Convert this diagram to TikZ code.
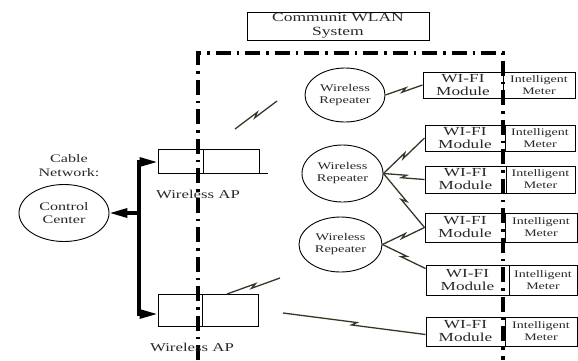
\documentclass[tikz,border=0pt]{standalone}
\usepackage{fontspec}
\setmainfont{Liberation Serif}[FakeStretch=1.4]
\usetikzlibrary{calc,arrows.meta,shapes.geometric}
\definecolor{boltc}{RGB}{55,55,40}
\definecolor{txtc}{RGB}{40,40,40}
\newcommand\fsz[2]{\fontsize{#1}{#2}\selectfont}
\begin{document}
\begin{tikzpicture}[x=1pt,y=-1pt,
  box/.style={draw, line width=1pt, inner sep=0pt, align=center, text=txtc},
  ell/.style={draw, ellipse, line width=0.9pt, inner sep=0pt, align=center, text=txtc},
  lbl/.style={inner sep=0pt, align=center, text=txtc},
  bus/.style={line width=3.2pt, line join=miter},
  ddash/.style={line width=3.2pt, dash pattern=on 15pt off 6pt on 2.5pt off 6pt},
  tip/.style={-{Triangle[length=18pt,width=9pt]}},
  bolt/.style={draw=boltc, line width=1.3pt,
    to path={-- ($(\tikztostart)!0.5!(\tikztotarget)!2.5pt!(\tikztotarget)!1.6pt!90:(\tikztotarget)$)
             -- ($(\tikztostart)!0.5!(\tikztotarget)!-2.5pt!(\tikztotarget)!1.6pt!-90:(\tikztotarget)$)
             -- (\tikztotarget)}}]
\useasboundingbox (0,0) rectangle (578,360);

% title
\node[box, minimum width=182pt, minimum height=28pt, font=\fsz{12.5}{14}] (title) at (338,26) {Communit WLAN\\System};

% dash-dot system boundary
\coordinate (s1) at (198,360);
\coordinate (s2) at (198,53);
\coordinate (s3) at (503,53);
\coordinate (s4) at (503,360);
\draw[ddash] (s1) -- (s2) -- (s3) -- (s4);

% control center
\node[lbl, font=\fsz{11.5}{14}] (cable) at (69,166) {Cable\\Network:};
\node[ell, minimum width=90pt, minimum height=57pt, font=\fsz{11.5}{13}] (cc) at (64,213) {Control\\Center};

% wireless APs
\node[box, minimum width=45pt, minimum height=24pt] (ap1l) at (180.5,161) {};
\node[box, minimum width=56pt, minimum height=24pt] (ap1r) at (231,161) {};
\node[lbl, font=\fsz{12}{13}] (ap1lab) at (198,194) {Wireless AP};
\node[box, minimum width=44pt, minimum height=32pt] (ap2l) at (180,310) {};
\node[box, minimum width=56pt, minimum height=32pt] (ap2r) at (230,310) {};
\node[lbl, font=\fsz{12}{13}] (ap2lab) at (192,347) {Wireless AP};
\draw[line width=1pt] (ap1r.south east) -- ++(8,0);

% bus
\coordinate (bt) at (139,162);
\coordinate (bb) at (139,314);
\coordinate (bm) at (139,213);
\draw[bus, tip] (bb) -- (bt) -- (bt -| ap1l.west);
\draw[bus, tip] (bt) -- (bb) -- (bb -| ap2l.west);
\draw[bus, tip] (bm) -- (cc.east);

% repeaters
\node[ell, minimum width=80pt, minimum height=54pt, font=\fsz{10.3}{12}] (rep1) at (345,95) {Wireless\\Repeater};
\node[ell, minimum width=81pt, minimum height=57pt, font=\fsz{10.3}{12}] (rep2) at (342.5,173.5) {Wireless\\Repeater};
\node[ell, minimum width=83pt, minimum height=55pt, font=\fsz{10.3}{12}] (rep3) at (340.5,244.5) {Wireless\\Repeater};

% WI-FI modules and meters
\foreach \i/\l/\d/\r/\t/\b in {1/423/503/575/72/98, 2/425/505/575/125/151, 3/425/506/575/166/193, 4/425/505/577/213/242, 5/426/509/577/265/295, 6/426/505/577/317/346} {
  \node[box, minimum width={(\d-\l)*1pt}, minimum height={(\b-\t)*1pt}, font=\fsz{12.3}{13}] (wifi\i) at ({(\l+\d)/2},{(\t+\b)/2}) {WI-FI\\Module};
  \node[box, minimum width={(\r-\d)*1pt}, minimum height={(\b-\t)*1pt}, font=\fsz{10}{12}] (meter\i) at ({(\d+\r)/2},{(\t+\b)/2}) {Intelligent\\Meter};
}

% wireless links
\coordinate (f1a) at (235,129);
\coordinate (f1b) at (277,101);
\draw[bolt] (f1a) to (f1b);
\coordinate (f2a) at (227,294);
\coordinate (f2b) at (280,278);
\draw[bolt] (f2a) to (f2b);
\coordinate (f3a) at (283,313);
\coordinate (w6in) at ($(wifi6.west)+(0,3)$);
\draw[bolt] (f3a) to (w6in);
\draw[bolt] (rep1.east) to (wifi1.west);
\draw[bolt] (rep2.east) to (wifi2.west);
\draw[bolt] (rep2.east) to (wifi3.west);
\draw[bolt] (rep2.east) to (wifi4.west);
\draw[bolt] (rep3.east) to (wifi4.west);
\coordinate (w5in) at ($(wifi5.north west)+(0,4)$);
\draw[bolt] (rep3.east) to (w5in);
\end{tikzpicture}
\end{document}
